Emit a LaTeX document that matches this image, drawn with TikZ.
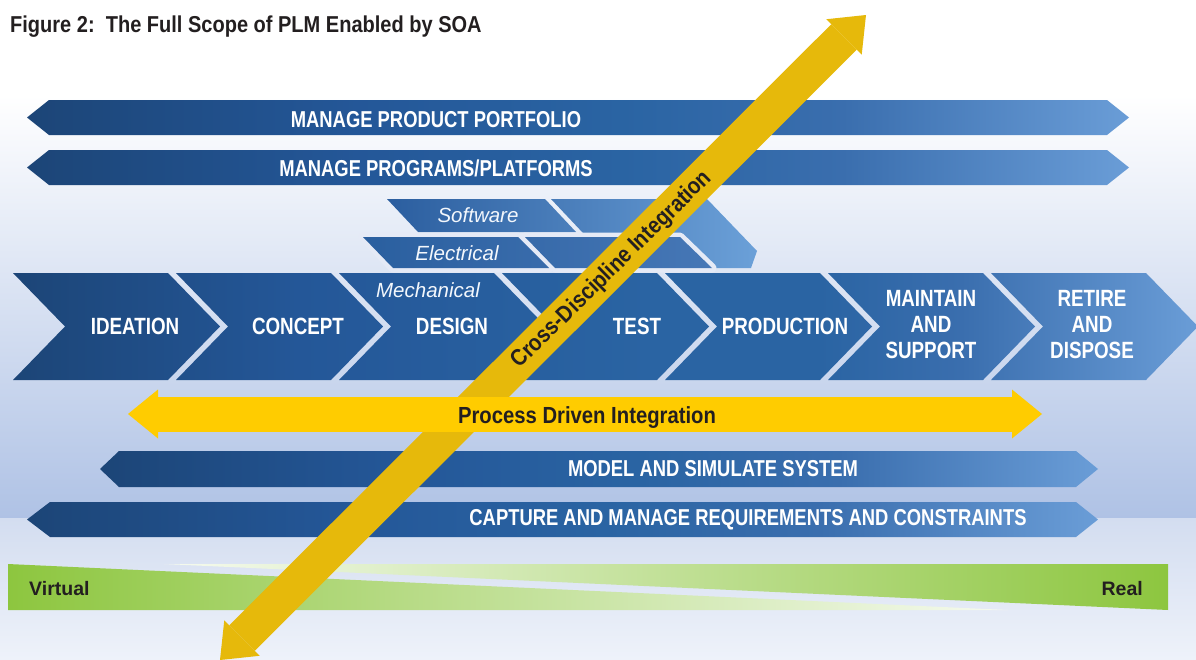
\documentclass[tikz,border=0pt]{standalone}
\usepackage{fontspec}
\setmainfont{Liberation Sans}
\newfontfamily\condfont{Liberation Sans}[FakeStretch=0.8]
\newfontfamily\semifont{Liberation Sans}[FakeStretch=0.87]
\usepackage{tikz}
\usetikzlibrary{arrows.meta}
\definecolor{inkdark}{HTML}{231F20}
\definecolor{bgupper}{HTML}{AFC2E5}
\definecolor{bglower}{HTML}{D3DDF0}
\definecolor{bgbottom}{HTML}{EEF2FA}
\definecolor{gapcol}{HTML}{E5EAF6}
\definecolor{blue0}{HTML}{1C4577}
\definecolor{blue1}{HTML}{245798}
\definecolor{blue2}{HTML}{2A64A3}
\definecolor{blue3}{HTML}{3A6EAE}
\definecolor{blue4}{HTML}{6A9DD7}
\definecolor{swleft}{HTML}{2B5E9F}
\definecolor{swright}{HTML}{6BA0D8}
\definecolor{elleft}{HTML}{2A5F9F}
\definecolor{elright}{HTML}{4677B6}
\definecolor{procyellow}{HTML}{FFCC00}
\definecolor{crossyellow}{HTML}{E6B90B}
\definecolor{leafgreen}{HTML}{8DC63F}
\pgfdeclarehorizontalshading{barshade}{100bp}{color(0bp)=(blue0); color(25bp)=(blue0); color(40bp)=(blue1); color(52bp)=(blue2); color(62bp)=(blue3); color(75bp)=(blue4); color(100bp)=(blue4)}
\pgfdeclarehorizontalshading{rowshade}{100bp}{color(0bp)=(blue0); color(25bp)=(blue0); color(37bp)=(blue1); color(52bp)=(blue2); color(59bp)=(blue2); color(65bp)=(blue3); color(75bp)=(blue4); color(100bp)=(blue4)}
\tikzset{barlabel/.style={font=\condfont\bfseries\fontsize{23}{23}\selectfont,text=white,inner sep=0pt}}
\tikzset{steplabel/.style={font=\condfont\bfseries\fontsize{23.5}{26}\selectfont,text=white,align=center,inner sep=0pt}}
\tikzset{layerlabel/.style={font=\itshape\fontsize{20.5}{20.5}\selectfont,text=white!92!swright,inner sep=0pt,anchor=base}}
\tikzset{darklabel/.style={font=\semifont\bfseries\fontsize{23.3}{23.3}\selectfont,text=inkdark,inner sep=0pt}}
\tikzset{endlabel/.style={font=\bfseries\fontsize{19.5}{19.5}\selectfont,text=inkdark,inner sep=0pt}}
\tikzset{procarrow/.style={draw=procyellow,line width=35pt,{Triangle[width=49pt,length=30pt,line width=0pt]}-{Triangle[width=49pt,length=30pt,line width=0pt]}}}
\tikzset{crossarrow/.style={draw=crossyellow,line width=36pt,{Triangle[width=50pt,length=31pt,line width=0pt]}-{Triangle[width=50pt,length=31pt,line width=0pt]}}}

\begin{document}
\begin{tikzpicture}[x=1pt,y=-1pt]
        \useasboundingbox (0,0) rectangle (1196,659);
        \fill[white] (0,0) rectangle (1196,659);
        \shade[top color=white,bottom color=bgupper] (0,95) rectangle (1196,518);
        \shade[top color=bglower,bottom color=bgbottom] (0,518) rectangle (1196,659);

        \node[font=\semifont\bfseries\fontsize{23}{23}\selectfont,text=inkdark,inner sep=0pt,anchor=base west] (title) at (10,32) {Figure 2:\ \ The Full Scope of PLM Enabled by SOA};

        % management bars
        \foreach \yt in {100,150}
            \shade[shading=barshade] (27,\yt+17.5) -- (49,\yt) -- (1107,\yt) -- (1129,\yt+17.5) -- (1107,\yt+35) -- (49,\yt+35) -- cycle;
        \node[barlabel] (portfolio) at (436,120) {MANAGE PRODUCT PORTFOLIO};
        \node[barlabel] (programs) at (436,168) {MANAGE PROGRAMS/PLATFORMS};

        % discipline layers
        \shade[left color=swleft,right color=swright]
            (387,199) -- (545,199) -- (576,232) -- (418,232) -- cycle
            (551,199) -- (707,199) -- (757,251) -- (751,268) -- (616,268) -- cycle;
        \shade[left color=elleft,right color=elright,preaction={draw=gapcol,line width=9pt,line join=round}]
            (363,237) -- (518,237) -- (549,268) -- (393,268) -- cycle
            (525,237) -- (680,237) -- (712,268) -- (555,268) -- cycle;
        \shade[shading=rowshade]
            \foreach \i in {0,...,6} {({13+163*\i},273) -- ++(155,0) -- ++(52,53.5) -- ++(-52,53.5) -- ++(-155,0) -- ++(52,-53.5) -- cycle};

        \node[layerlabel] (software) at (478,222) {Software};
        \node[layerlabel] (electrical) at (457,260) {Electrical};
        \node[layerlabel] (mechanical) at (428,297) {Mechanical};

        \node[steplabel] (ideation) at (135,326) {IDEATION};
        \node[steplabel] (concept) at (298,326) {CONCEPT};
        \node[steplabel] (design) at (452,326) {DESIGN};
        \node[steplabel] (test) at (637,326) {TEST};
        \node[steplabel] (production) at (785,326) {PRODUCTION};
        \node[steplabel] (maintain) at (931,325) {MAINTAIN\\AND\\SUPPORT};
        \node[steplabel] (retire) at (1092,325) {RETIRE\\AND\\DISPOSE};

        % system bars
        \shade[shading=barshade] (100,469) -- (119,451) -- (1076,451) -- (1098,469) -- (1076,487) -- (119,487) -- cycle;
        \shade[shading=barshade] (27,519.5) -- (50,502) -- (1076,502) -- (1098,519.5) -- (1076,537) -- (50,537) -- cycle;
        \node[barlabel] (model) at (713,469) {MODEL AND SIMULATE SYSTEM};
        \node[barlabel] (capture) at (748,520) {CAPTURE AND MANAGE REQUIREMENTS AND CONSTRAINTS};

        % virtual to real
        \shade[left color=leafgreen,right color=white!92!leafgreen] (8,564) -- (1008,610) -- (8,610) -- cycle;
        \shade[left color=white!92!leafgreen,right color=leafgreen] (164,564) -- (1168,564) -- (1168,610) -- cycle;
        \node[endlabel,anchor=base west] (virtual) at (29,595) {Virtual};
        \node[endlabel,anchor=base east] (real) at (1143,595) {Real};

        % cross-discipline integration
        \coordinate (crossB) at (220,660);
        \coordinate (crossT) at (866,15);
        \draw[crossarrow] (crossB) -- (crossT);
        \node[darklabel,rotate=44.5] (crossdisc) at (612,270) {Cross-Discipline Integration};

        % process integration
        \coordinate (procL) at (128,414);
        \coordinate (procR) at (1042,414);
        \draw[procarrow] (procL) -- (procR);
        \node[darklabel,anchor=base] (process) at (587,423) {Process Driven Integration};
    \end{tikzpicture}
\end{document}
